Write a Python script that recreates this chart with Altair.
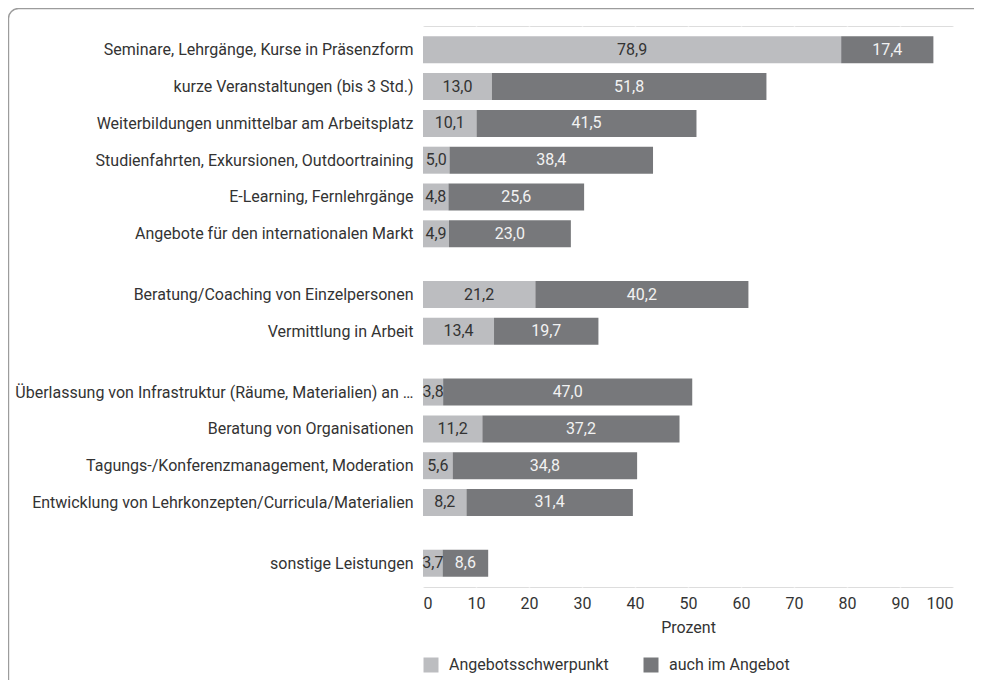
import json
import altair as alt
import pandas as pd

categories = [
    "Seminare, Lehrgänge, Kurse in Präsenzform",
    "kurze Veranstaltungen (bis 3 Std.)",
    "Weiterbildungen unmittelbar am Arbeitsplatz",
    "Studienfahrten, Exkursionen, Outdoortraining",
    "E-Learning, Fernlehrgänge",
    "Angebote für den internationalen Markt",
    "Beratung/Coaching von Einzelpersonen",
    "Vermittlung in Arbeit",
    "Überlassung von Infrastruktur (Räume, Materialien) an …",
    "Beratung von Organisationen",
    "Tagungs-/Konferenzmanagement, Moderation",
    "Entwicklung von Lehrkonzepten/Curricula/Materialien",
    "sonstige Leistungen",
]
groups = [0, 0, 0, 0, 0, 0, 1, 1, 2, 2, 2, 2, 3]
schwerpunkt = [78.9, 13.0, 10.1, 5.0, 4.8, 4.9, 21.2, 13.4, 3.8, 11.2, 5.6, 8.2, 3.7]
auch = [17.4, 51.8, 41.5, 38.4, 25.6, 23.0, 40.2, 19.7, 47.0, 37.2, 34.8, 31.4, 8.6]
series = ["Angebotsschwerpunkt", "auch im Angebot"]
x_ticks = [0, 10, 20, 30, 40, 50, 60, 70, 80, 90, 100]

LIGHT = "#bcbdc0"
DARK = "#77787b"
BG = "#e6e7e9"
TXT = "#333333"
FONT = "Roboto"
FS = 16

# row slot position: rows 100 apart, extra 65 between groups
positions = [i * 100 + g * 65 for i, g in enumerate(groups)]

rows = []
for cat, pos, a, b in zip(categories, positions, schwerpunkt, auch):
    rows.append({"cat": cat, "pos": pos, "series": series[0], "v": a, "x0": 0.0, "x1": a})
    rows.append({"cat": cat, "pos": pos, "series": series[1], "v": b, "x0": a, "x1": a + b})
df = pd.DataFrame(rows)

label_expr = f"{json.dumps(categories, ensure_ascii=False)}[indexof({json.dumps(positions)}, datum.value)]"

y_scale = alt.Scale(domain=[-51, 1446], reverse=True, nice=False, zero=False)
x_scale = alt.Scale(domain=[0, 100], nice=False)

base = alt.Chart(df)

bars = base.mark_bar(orient="horizontal", size=27).encode(
    x=alt.X("x0:Q", scale=x_scale,
            axis=alt.Axis(values=x_ticks, title="Prozent", grid=True, gridColor="white",
                          gridWidth=1.5, ticks=False, domain=False, labelPadding=8,
                          titlePadding=8, labelFontSize=FS, titleFontSize=FS,
                          labelColor=TXT, titleColor=TXT, titleFontWeight="normal",
                          labelFont=FONT, titleFont=FONT)),
    x2="x1:Q",
    y=alt.Y("pos:Q", scale=y_scale,
            axis=alt.Axis(values=positions, labelExpr=label_expr, title=None, grid=False,
                          ticks=False, domain=False, labelPadding=10, labelFontSize=FS,
                          labelColor=TXT, labelFont=FONT, labelLimit=500)),
    color=alt.Color("series:N", scale=alt.Scale(domain=series, range=[LIGHT, DARK]),
                    legend=alt.Legend(title=None, orient="none", legendX=0, legendY=631,
                                      direction="horizontal", symbolType="square",
                                      symbolSize=225, symbolStrokeWidth=0,
                                      labelFontSize=FS, labelFont=FONT, labelColor=TXT,
                                      labelLimit=400, columnPadding=34, labelOffset=10)),
)

texts = base.transform_calculate(
    mid="(datum.x0 + datum.x1) / 2",
    lab="replace(format(datum.v, '.1f'), '.', ',')",
).mark_text(fontSize=FS, font=FONT).encode(
    x=alt.X("mid:Q", scale=x_scale),
    y=alt.Y("pos:Q", scale=y_scale),
    text="lab:N",
    color=alt.Color("series:N", scale=alt.Scale(domain=series, range=[TXT, "#f2f2f2"]),
                    legend=None),
)

frame = alt.Chart(pd.DataFrame({"a": [0]})).mark_rect(
    fill="white", fillOpacity=0, stroke="#9c9c9c", strokeWidth=1.4, cornerRadius=10
).encode(
    x=alt.value(-414.5), y=alt.value(-17.5), x2=alt.value(1500), y2=alt.value(1500)
)

chart = alt.layer(frame, bars, texts).resolve_scale(color="independent").properties(
    width=530,
    height=561,
    autosize=alt.AutoSizeParams(type="none"),
    padding={"left": 415, "top": 18, "right": 21, "bottom": 93},
).configure_view(fill=BG, stroke=None).configure(font=FONT)

chart.save("out.html", embed_options={"renderer": "svg", "actions": False})
